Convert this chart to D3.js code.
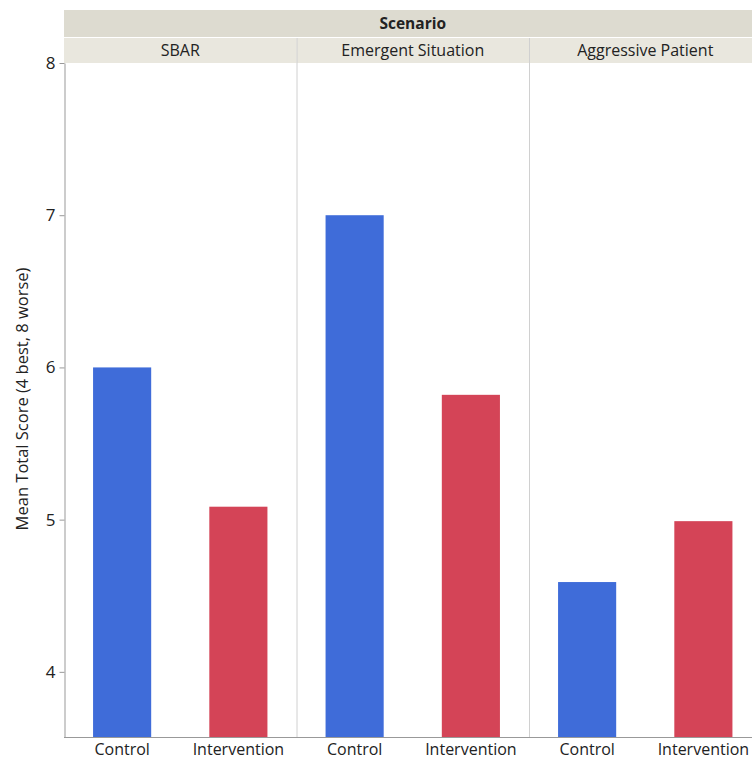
<!DOCTYPE html>
<html><head><meta charset="utf-8">
<script src="https://cdn.jsdelivr.net/npm/d3@7"></script>
<style>body{margin:0;background:#fff}svg{display:block}text{font-family:"Open Sans","Noto Sans",sans-serif;fill:#222}</style>
</head><body><svg id="c" width="752" height="758"></svg>
<script>
const scenarios = ["SBAR", "Emergent Situation", "Aggressive Patient"];
const groups = ["Control", "Intervention"];
const controlValues = [6.0, 7.0, 4.59];
const interventionValues = [5.085, 5.82, 4.99];
const yTicks = [4, 5, 6, 7, 8];
const groupColors = ["#3f6cd9", "#d44457"];

(function () {
const svg = d3.select("#c");
const mLeft = 64, mTop = 63, mBottom = 737, panelW = 232.5;
const y = d3.scaleLinear().domain([3.572, 8]).range([mBottom, mTop]);
const fx = d3.scaleBand().domain(scenarios).range([mLeft, mLeft + panelW * 3]);
const x = d3.scaleBand().domain(groups).range([0, panelW]).paddingInner(0.5).paddingOuter(0.25);

// header bands
svg.append("rect").attr("x", mLeft).attr("y", 10).attr("width", panelW * 3).attr("height", 27).attr("fill", "#dddbd0");
svg.append("text").attr("x", mLeft + panelW * 1.5).attr("y", 29).attr("text-anchor", "middle")
  .attr("font-size", 15.5).attr("font-weight", "bold").text("Scenario");
scenarios.forEach(s => {
  svg.append("rect").attr("x", fx(s)).attr("y", 38).attr("width", panelW).attr("height", 25).attr("fill", "#e9e7de");
  svg.append("text").attr("x", fx(s) + panelW / 2).attr("y", 56).attr("text-anchor", "middle")
    .attr("font-size", 16).text(s);
});
// panel separators
scenarios.slice(1).forEach(s => {
  svg.append("line").attr("x1", fx(s) + 0.5).attr("x2", fx(s) + 0.5).attr("y1", 38).attr("y2", mBottom)
    .attr("stroke", "#d0d0d0").attr("stroke-width", 1);
});

// bars
const data = [];
scenarios.forEach((s, i) => {
  data.push({s, g: groups[0], v: controlValues[i]});
  data.push({s, g: groups[1], v: interventionValues[i]});
});
svg.append("g").selectAll("rect").data(data).join("rect")
  .attr("x", d => fx(d.s) + x(d.g))
  .attr("width", x.bandwidth())
  .attr("y", d => y(d.v))
  .attr("height", d => y.range()[0] - y(d.v))
  .attr("fill", d => groupColors[groups.indexOf(d.g)]);

// y axis
const ya = svg.append("g").attr("transform", `translate(${mLeft + 0.5},0)`)
  .call(d3.axisLeft(y).tickValues(yTicks).tickFormat(d3.format("d")).tickSize(5).tickSizeOuter(0));
ya.select(".domain").attr("stroke", "#999");
ya.selectAll(".tick line").attr("stroke", "#999");
ya.selectAll(".tick text").attr("font-size", 17).attr("fill", "#222").attr("x", -9);
ya.attr("font-family", null);

// x axis baseline and labels
svg.append("line").attr("x1", mLeft).attr("x2", mLeft + panelW * 3).attr("y1", mBottom + 0.5).attr("y2", mBottom + 0.5)
  .attr("stroke", "#999");
scenarios.forEach(s => {
  const g = svg.append("g").attr("transform", `translate(${fx(s)},${mBottom + 0.5})`)
    .call(d3.axisBottom(x).tickSize(0));
  g.select(".domain").remove();
  g.attr("font-family", null);
  g.selectAll(".tick text").attr("font-size", 16).attr("fill", "#222").attr("dy", null).attr("y", 17);
});

// y title
svg.append("text").attr("transform", `translate(28,399) rotate(-90)`)
  .attr("text-anchor", "middle").attr("font-size", 16.5).text("Mean Total Score (4 best, 8 worse)");
})();
</script></body></html>
